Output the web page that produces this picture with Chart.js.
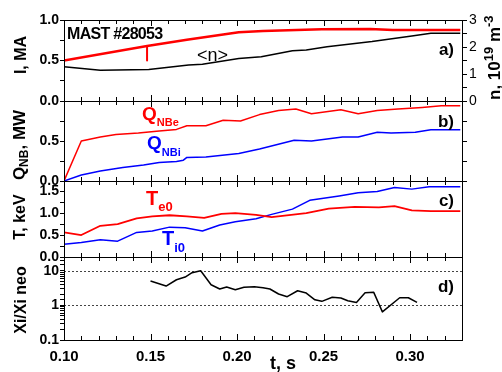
<!DOCTYPE html>
<html><head><meta charset="utf-8">
<script src="https://cdn.jsdelivr.net/npm/chart.js@4.4.1/dist/chart.umd.min.js"></script>
<style>
html,body{margin:0;padding:0;background:#fff;}
#wrap{position:relative;width:502px;height:372px;overflow:hidden;background:#fff;}
#wrap canvas{position:absolute;left:0;top:0;}
</style></head><body>
<div id="wrap">
<canvas id="ca" width="502" height="372"></canvas>
<canvas id="cb" width="502" height="372"></canvas>
<canvas id="cc" width="502" height="372"></canvas>
<canvas id="cd" width="502" height="372"></canvas>
</div>
<script>
// ---------- data ----------
// Panel a) plasma current I (MA) and line density <n> (10^19 m^-3)
const tI = [0.100, 0.148, 0.171, 0.201, 0.215, 0.249, 0.277, 0.290, 0.329];
const vI = [0.50, 0.68, 0.755, 0.85, 0.865, 0.885, 0.889, 0.877, 0.877];
const tMark = [0.148, 0.148];
const vMark = [0.68, 0.50];
const tN = [0.100, 0.121, 0.149, 0.172, 0.180, 0.201, 0.214, 0.232, 0.240, 0.252, 0.278, 0.301, 0.312, 0.329];
const vN = [1.27, 1.14, 1.17, 1.33, 1.36, 1.57, 1.64, 1.86, 1.89, 2.01, 2.20, 2.41, 2.51, 2.51];
// Panel b) NBI heating power (MW)
const tQe = [0.100, 0.110, 0.121, 0.130, 0.143, 0.155, 0.165, 0.171, 0.182, 0.192, 0.202, 0.213, 0.224, 0.234, 0.243, 0.260, 0.270, 0.281, 0.293, 0.307, 0.318, 0.329];
const vQe = [0.00, 0.50, 0.55, 0.58, 0.60, 0.625, 0.645, 0.69, 0.69, 0.76, 0.75, 0.83, 0.88, 0.90, 0.84, 0.89, 0.84, 0.88, 0.90, 0.92, 0.94, 0.94];
const tQi = [0.100, 0.110, 0.121, 0.134, 0.146, 0.155, 0.165, 0.169, 0.171, 0.182, 0.201, 0.213, 0.233, 0.243, 0.261, 0.270, 0.281, 0.289, 0.303, 0.312, 0.329];
const vQi = [0.00, 0.075, 0.125, 0.17, 0.20, 0.23, 0.245, 0.26, 0.295, 0.30, 0.345, 0.40, 0.51, 0.50, 0.55, 0.55, 0.61, 0.60, 0.61, 0.64, 0.64];
// Panel c) central temperatures (keV)
const tTe = [0.100, 0.110, 0.121, 0.131, 0.142, 0.151, 0.161, 0.171, 0.181, 0.191, 0.199, 0.211, 0.220, 0.240, 0.253, 0.268, 0.282, 0.291, 0.301, 0.312, 0.329];
const vTe = [0.56, 0.50, 0.71, 0.75, 0.88, 0.925, 0.95, 0.925, 0.89, 0.98, 1.00, 0.96, 0.91, 1.00, 1.10, 1.14, 1.13, 1.16, 1.06, 1.045, 1.045];
const tTi = [0.100, 0.110, 0.121, 0.131, 0.142, 0.151, 0.161, 0.170, 0.180, 0.190, 0.199, 0.211, 0.220, 0.232, 0.242, 0.259, 0.270, 0.281, 0.291, 0.301, 0.311, 0.329];
const vTi = [0.29, 0.33, 0.39, 0.36, 0.56, 0.59, 0.68, 0.665, 0.59, 0.73, 0.80, 0.87, 0.97, 1.09, 1.29, 1.39, 1.46, 1.49, 1.58, 1.545, 1.60, 1.60];
// Panel d) chi_i / chi_i neo
const tX = [0.150, 0.159, 0.165, 0.170, 0.174, 0.179, 0.185, 0.190, 0.194, 0.199, 0.204, 0.210, 0.215, 0.219, 0.224, 0.229, 0.235, 0.240, 0.245, 0.249, 0.255, 0.260, 0.264, 0.269, 0.274, 0.279, 0.284, 0.294, 0.299, 0.304];
const vX = [5.06, 3.62, 5.5, 6.6, 8.8, 10.0, 3.95, 2.97, 3.39, 2.83, 3.33, 3.46, 3.24, 2.97, 2.13, 1.78, 2.65, 2.27, 1.45, 1.31, 1.71, 1.63, 1.36, 1.22, 2.32, 2.38, 0.65, 1.66, 1.66, 1.22];
// axis ranges / tick labels
const xMin = 0.10, xMax = 0.33;
const xTickLabels = ['0.10', '0.15', '0.20', '0.25', '0.30'];
const logLabels = ['0.1', '1', '10'];
const refLines = [1, 10];

// ---------- helpers ----------
const FF = "'Liberation Sans', Arial, sans-serif";
Chart.defaults.font.family = FF;
Chart.defaults.color = '#000';
const pts = (t, v) => t.map((x, i) => ({x: x, y: v[i]}));

function drawRich(ctx, x, y, parts, color, rot, align) {
  ctx.save();
  ctx.translate(x, y);
  if (rot) ctx.rotate(rot * Math.PI / 180);
  ctx.fillStyle = color;
  ctx.textBaseline = 'alphabetic';
  ctx.textAlign = 'left';
  if (parts.ls !== undefined && 'letterSpacing' in ctx) ctx.letterSpacing = parts.ls;
  let w = 0;
  parts.forEach(p => { ctx.font = p.f; w += ctx.measureText(p.t).width; });
  let cx = align === 'center' ? -w / 2 : (align === 'right' ? -w : 0);
  parts.forEach(p => { ctx.font = p.f; ctx.fillText(p.t, cx, p.dy || 0); cx += ctx.measureText(p.t).width; });
  ctx.restore();
}
const B = s => 'bold ' + s + 'px ' + FF;
const N = s => s + 'px ' + FF;

function framePlugin(texts, logRef) {
  return {
    id: 'frame' + Math.random().toString(36).slice(2),
    beforeDatasetsDraw(chart) {
      if (!logRef) return;
      const ctx = chart.ctx, a = chart.chartArea, ys = chart.scales.y;
      ctx.save();
      ctx.strokeStyle = '#444'; ctx.lineWidth = 1; ctx.setLineDash([2, 2]);
      refLines.forEach(v => {
        const py = Math.round(ys.getPixelForValue(v)) + 0.5;
        ctx.beginPath(); ctx.moveTo(a.left, py); ctx.lineTo(a.right, py); ctx.stroke();
      });
      ctx.restore();
    },
    afterDraw(chart) {
      const ctx = chart.ctx, a = chart.chartArea, xs = chart.scales.x;
      ctx.save();
      ctx.strokeStyle = '#000'; ctx.lineWidth = 1;
      ctx.strokeRect(Math.round(a.left) + 0.5, Math.round(a.top) + 0.5, Math.round(a.right - a.left), Math.round(a.bottom - a.top));
      for (let k = 10; k <= 33; k++) {
        const px = Math.round(xs.getPixelForValue(k / 100)) + 0.5;
        const len = (k % 5 === 0) ? 6 : 4;
        ctx.beginPath();
        ctx.moveTo(px, a.top); ctx.lineTo(px, a.top + len);
        ctx.moveTo(px, a.bottom); ctx.lineTo(px, a.bottom - len);
        ctx.stroke();
      }
      ctx.restore();
      texts.forEach(tx => drawRich(ctx, tx.x, tx.y, tx.parts, tx.color || '#000', tx.rot || 0, tx.align || 'left'));
    }
  };
}

function xScale(show) {
  const s = {
    type: 'linear', min: xMin, max: xMax, display: show,
    grid: {display: false, drawTicks: false}, border: {display: false},
    ticks: {
      stepSize: 0.05, includeBounds: false, autoSkip: false, maxRotation: 0, padding: 8,
      font: {size: 15, weight: 'bold'},
      callback: v => { const s = v.toFixed(2); return xTickLabels.includes(s) ? s : ''; }
    }
  };
  if (show) s.afterFit = sc => { sc.height = 25; };
  return s;
}
function yLeft(min, max, step, showList) {
  return {
    type: 'linear', position: 'left', min: min, max: max,
    grid: {display: true, drawOnChartArea: false, drawTicks: true, tickLength: 4, color: '#000'},
    border: {display: false},
    ticks: {
      stepSize: step, includeBounds: false, autoSkip: false, padding: 1,
      font: {size: 14, weight: 'bold'},
      callback: v => { const s = v.toFixed(1); return showList.includes(s) ? s : ''; }
    },
    afterFit: s => { s.width = 40; }
  };
}
const lineDs = (data, color, w, axis) => ({
  data: data, borderColor: color, borderWidth: w, pointRadius: 0, fill: false,
  tension: 0, yAxisID: axis || 'y', borderJoinStyle: 'round'
});
const baseOpts = (pad) => ({
  responsive: false, animation: false, events: [],
  layout: {padding: pad},
  plugins: {legend: {display: false}, tooltip: {enabled: false}}
});

// ---------- panel a ----------
new Chart(document.getElementById('ca'), {
  type: 'line',
  data: {datasets: [
    lineDs(pts(tN, vN), '#000', 1.5, 'yR'),
    lineDs(pts(tI, vI), '#ff0000', 2.5),
    lineDs(pts(tMark, vMark), '#ff0000', 2)
  ]},
  options: Object.assign(baseOpts({left: 24, right: 20, top: 20, bottom: 271}), {
    scales: {
      x: xScale(false),
      y: yLeft(0, 1, 0.25, ['0.0', '0.5', '1.0']),
      yR: {
        type: 'linear', position: 'right', min: 0, max: 3,
        grid: {display: true, drawOnChartArea: false, drawTicks: true, tickLength: 5, color: '#000'},
        border: {display: false},
        ticks: {stepSize: 0.5, includeBounds: false, autoSkip: false, padding: 2, font: {size: 14},
          callback: v => Number.isInteger(v) ? String(v) : ''},
        afterFit: s => { s.width = 20; }
      }
    }
  }),
  plugins: [framePlugin([
    {x: 67, y: 39, parts: Object.assign([{t: 'MAST #28053', f: B(16)}], {ls: '-0.7px'})},
    {x: 197, y: 61, parts: [{t: '<n>', f: N(18)}]},
    {x: 454, y: 55, parts: [{t: 'a)', f: B(17)}], align: 'right'},
    {x: 26, y: 55, parts: [{t: 'I, MA', f: B(16)}], rot: -90, align: 'center'},
    {x: 500, y: 100, parts: [{t: 'n, 10', f: B(17)}, {t: '19', f: B(13), dy: -7}, {t: ' m', f: B(17)}, {t: '-3', f: B(13), dy: -7}], rot: -90}
  ])]
});

// ---------- panel b ----------
new Chart(document.getElementById('cb'), {
  type: 'line',
  data: {datasets: [
    lineDs(pts(tQe, vQe), '#ff0000', 1.5),
    lineDs(pts(tQi, vQi), '#0000ff', 1.5)
  ]},
  options: Object.assign(baseOpts({left: 24, right: 20, top: 101, bottom: 191}), {
    scales: {
      x: xScale(false),
      y: yLeft(0, 1, 0.25, ['0.0', '0.5']),
      yR: {
        type: 'linear', position: 'right', min: 0, max: 1,
        grid: {display: true, drawOnChartArea: false, drawTicks: true, tickLength: 5, color: '#000'},
        border: {display: false},
        ticks: {stepSize: 0.25, includeBounds: false, autoSkip: false, callback: () => ''},
        afterFit: s => { s.width = 20; }
      }
    }
  }),
  plugins: [framePlugin([
    {x: 142, y: 120, parts: [{t: 'Q', f: B(19)}, {t: 'NBe', f: B(11), dy: 6}], color: '#ff0000'},
    {x: 147, y: 149, parts: [{t: 'Q', f: B(19)}, {t: 'NBi', f: B(11), dy: 7}], color: '#0000ff'},
    {x: 454, y: 127, parts: [{t: 'b)', f: B(17)}], align: 'right'},
    {x: 25, y: 145, parts: [{t: 'Q', f: B(17)}, {t: 'NB', f: B(12), dy: 3}, {t: ', MW', f: B(17)}], rot: -90, align: 'center'}
  ])]
});

// ---------- panel c ----------
new Chart(document.getElementById('cc'), {
  type: 'line',
  data: {datasets: [
    lineDs(pts(tTe, vTe), '#ff0000', 1.8),
    lineDs(pts(tTi, vTi), '#0000ff', 1.5)
  ]},
  options: Object.assign(baseOpts({left: 24, right: 40, top: 181, bottom: 115}), {
    scales: {
      x: xScale(false),
      y: yLeft(0, 1.73, 0.25, ['0.0', '0.5', '1.0', '1.5'])
    }
  }),
  plugins: [framePlugin([
    {x: 146, y: 205, parts: [{t: 'T', f: B(20)}, {t: 'e0', f: B(13), dy: 6}], color: '#ff0000'},
    {x: 162, y: 245, parts: [{t: 'T', f: B(20)}, {t: 'i0', f: B(13), dy: 7}], color: '#0000ff'},
    {x: 454, y: 206, parts: [{t: 'c)', f: B(17)}], align: 'right'},
    {x: 25, y: 217, parts: [{t: 'T, keV', f: B(16)}], rot: -90, align: 'center'}
  ])]
});

// ---------- panel d ----------
new Chart(document.getElementById('cd'), {
  type: 'line',
  data: {datasets: [
    lineDs(pts(tX, vX), '#000', 1.5)
  ]},
  options: Object.assign(baseOpts({left: 24, right: 40, top: 257, bottom: 7}), {
    scales: {
      x: xScale(true),
      y: {
        type: 'logarithmic', position: 'left', min: 0.1, max: 25,
        grid: {display: true, drawOnChartArea: false, drawTicks: true, tickLength: 4, color: '#000'},
        border: {display: false},
        ticks: {autoSkip: false, padding: 1, font: {size: 14, weight: 'bold'},
          callback: v => { const s = String(Math.round(v * 1000) / 1000); return logLabels.includes(s) ? s : ''; }},
        afterFit: s => { s.width = 40; }
      }
    }
  }),
  plugins: [framePlugin([
    {x: 454, y: 292, parts: [{t: 'd)', f: B(17)}], align: 'right'},
    {x: 26, y: 300, parts: [{t: 'Xi/Xi neo', f: B(16)}], rot: -90, align: 'center'},
    {x: 283, y: 369, parts: [{t: 't, s', f: B(18)}], align: 'center'}
  ], true)]
});
</script>
</body></html>
